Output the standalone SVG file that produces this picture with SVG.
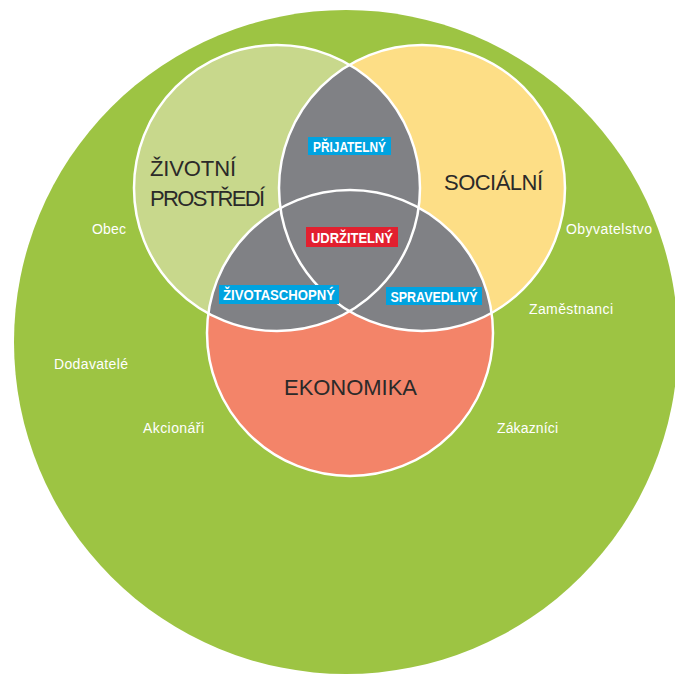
<svg xmlns="http://www.w3.org/2000/svg" width="675" height="675" viewBox="0 0 675 675">
<style>
.big{font-family:"Liberation Sans",Arial,sans-serif;font-size:22px;fill:#2b2a29}
.tag{font-family:"Liberation Sans",Arial,sans-serif;font-size:14px;font-weight:bold;fill:#fff;text-anchor:middle}
.out{font-family:"Liberation Sans",Arial,sans-serif;font-size:14px;fill:#fff}
.ring{fill:none;stroke:#fff;stroke-width:2.5}
.grey{fill:#808185}
</style>
<defs>
<clipPath id="cL"><circle cx="277" cy="188" r="143"/></clipPath>
<clipPath id="cR"><circle cx="422" cy="188" r="143"/></clipPath>
</defs>
<rect width="675" height="675" fill="#fff"/>
<g id="stakeholders">
<circle cx="346" cy="342" r="332" fill="#9dc443"/>
<text class="out" x="92" y="234" textLength="34">Obec</text>
<text class="out" x="54" y="369" textLength="74">Dodavatelé</text>
<text class="out" x="143" y="433" textLength="61">Akcionáři</text>
<text class="out" x="566" y="234" textLength="86">Obyvatelstvo</text>
<text class="out" x="529" y="314" textLength="84">Zaměstnanci</text>
<text class="out" x="497" y="433" textLength="61">Zákazníci</text>
</g>
<g id="zivotni-prostredi">
<circle cx="277" cy="188" r="143" fill="#c8d88c"/>
</g>
<g id="socialni">
<circle cx="422" cy="188" r="143" fill="#fdde86"/>
</g>
<g id="ekonomika">
<circle cx="350" cy="333" r="143" fill="#f38469"/>
</g>
<g id="overlaps">
<circle class="grey" cx="422" cy="188" r="143" clip-path="url(#cL)"/>
<circle class="grey" cx="350" cy="333" r="143" clip-path="url(#cL)"/>
<circle class="grey" cx="350" cy="333" r="143" clip-path="url(#cR)"/>
</g>
<g id="outlines">
<circle class="ring" cx="277" cy="188" r="143"/>
<circle class="ring" cx="422" cy="188" r="143"/>
<circle class="ring" cx="350" cy="333" r="143"/>
</g>
<g id="labels-main">
<text class="big" x="150" y="176" textLength="86">ŽIVOTNÍ</text>
<text class="big" x="150" y="206" textLength="115">PROSTŘEDÍ</text>
<text class="big" x="444" y="190" textLength="99">SOCIÁLNÍ</text>
<text class="big" x="284" y="395" textLength="133">EKONOMIKA</text>
</g>
<g id="prijatelny">
<rect x="308" y="137" width="83" height="18" fill="#00a3e0"/>
<text class="tag" x="349.5" y="151.5" textLength="73" lengthAdjust="spacingAndGlyphs">PŘIJATELNÝ</text>
</g>
<g id="udrzitelny">
<rect x="306" y="227" width="92" height="20" fill="#e2202f"/>
<text class="tag" x="352" y="242.5" textLength="82" lengthAdjust="spacingAndGlyphs">UDRŽITELNÝ</text>
</g>
<g id="zivotaschopny">
<rect x="219" y="285" width="120" height="19" fill="#00a3e0"/>
<text class="tag" x="279" y="300" textLength="112" lengthAdjust="spacingAndGlyphs">ŽIVOTASCHOPNÝ</text>
</g>
<g id="spravedlivy">
<rect x="386" y="287" width="96" height="18" fill="#00a3e0"/>
<text class="tag" x="434" y="301.5" textLength="87" lengthAdjust="spacingAndGlyphs">SPRAVEDLIVÝ</text>
</g>
</svg>
